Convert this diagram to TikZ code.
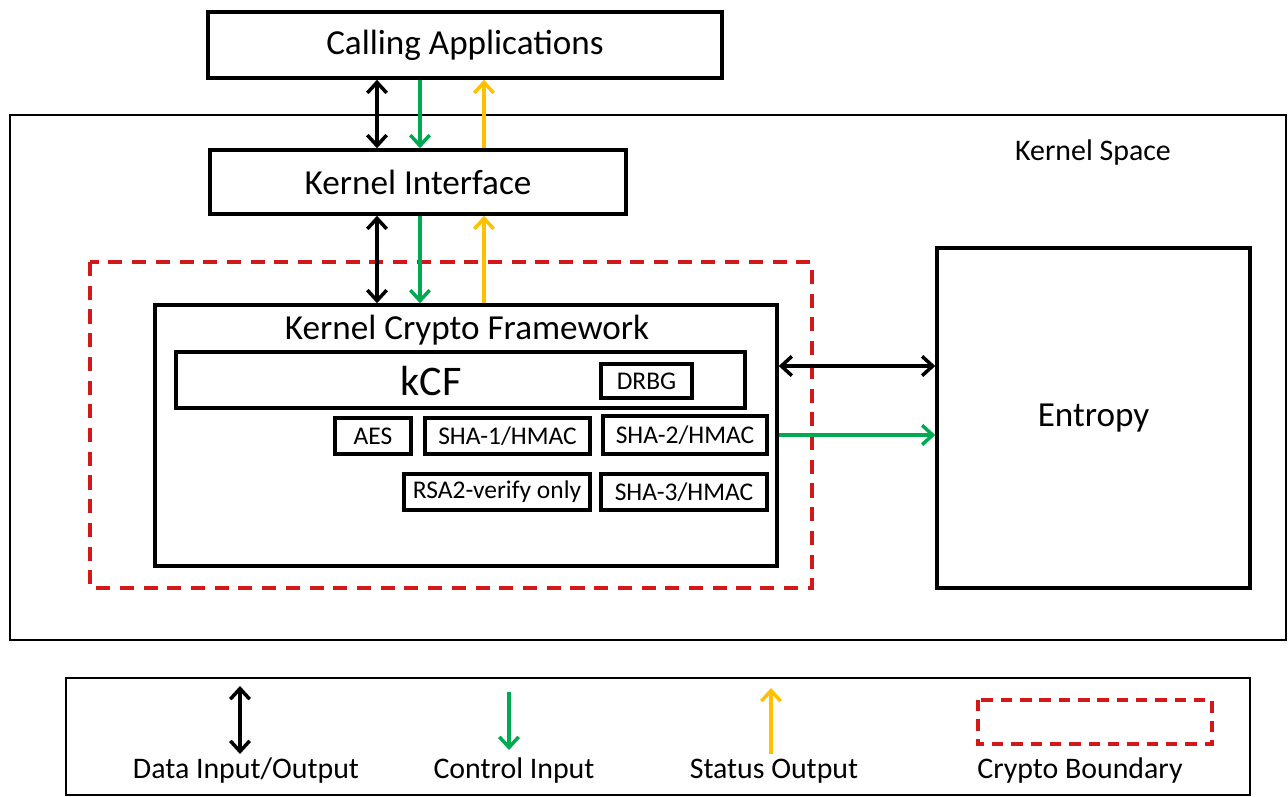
\documentclass[tikz,border=0pt]{standalone}
\usepackage{fontspec}
\setmainfont{Carlito}
\usetikzlibrary{arrows.meta}
\definecolor{ctrlgreen}{RGB}{0,170,80}
\definecolor{statyellow}{RGB}{255,192,0}
\definecolor{bndred}{RGB}{210,24,24}

\begin{document}
\begin{tikzpicture}[x=0.02cm,y=-0.02cm,
	box/.style={draw, line width=2pt, inner sep=0pt, font=\fontsize{20}{24}\selectfont},
	smallbox/.style={draw, line width=2pt, inner sep=0pt, font=\fontsize{14.5}{17}\selectfont},
	bigtext/.style={font=\fontsize{20}{24}\selectfont},
	legtext/.style={font=\fontsize{17}{20}\selectfont},
	outer/.style={line width=1.6pt},
	tip/.tip={Straight Barb[length=6pt,width=11pt,line width=2pt]},
	dataio/.style={line width=2.2pt, tip-tip},
	ctrlin/.style={ctrlgreen, line width=2.2pt, -tip},
	statout/.style={statyellow, line width=2.2pt, -tip},
	boundary/.style={bndred, line width=2.3pt, dash pattern=on 8pt off 5.5pt}]
	%\draw[help lines] (0,0) grid[step=50] (1288,796);
	\useasboundingbox (0,0) rectangle (1288,796);
	\node[box, minimum width=10.28cm, minimum height=1.32cm] (calling) at (465,45) {Calling Applications};
	\draw[outer] (10,115) rectangle (1286,640);
	\node[font=\fontsize{17}{20}\selectfont] (kspace) at (1093,153) {Kernel Space};
	\node[box, minimum width=8.32cm, minimum height=1.28cm] (kif) at (418,182) {Kernel Interface};
	\draw[boundary] (90,262) rectangle (812,588);
	\node[box, minimum width=12.44cm, minimum height=5.22cm] (kcf) at (466,435.5) {};
	\node[bigtext] (kcftitle) at (467,330) {Kernel Crypto Framework};
	\node[box, minimum width=11.38cm, minimum height=1.12cm] (kcfbar) at (460.5,380) {};
	\node[font=\fontsize{24}{28}\selectfont] (kcflabel) at (431,381) {kCF};
	\node[smallbox, minimum width=1.82cm, minimum height=0.68cm] (drbg) at (646.5,381) {DRBG};
	\node[smallbox, minimum width=1.52cm, minimum height=0.72cm] (aes) at (373,436) {AES};
	\node[smallbox, minimum width=3.3cm, minimum height=0.72cm] (sha1) at (507.5,436) {SHA-1/HMAC};
	\node[smallbox, minimum width=3.28cm, minimum height=0.76cm] (sha2) at (685,435) {SHA-2/HMAC};
	\node[smallbox, minimum width=3.72cm, minimum height=0.72cm] (rsa) at (497,492) {RSA2-verify only};
	\node[smallbox, minimum width=3.32cm, minimum height=0.72cm] (sha3) at (684,492) {SHA-3/HMAC};
	\node[box, minimum width=6.26cm, minimum height=6.8cm] (entropy) at (1093.5,418) {Entropy};

	\coordinate (xdata) at (377,0);
	\coordinate (xctrl) at (420,0);
	\coordinate (xstat) at (484,0);
	\coordinate (ydata) at (0,366);
	\draw[dataio] (calling.south -| xdata) -- (kif.north -| xdata);
	\draw[ctrlin] (calling.south -| xctrl) -- (kif.north -| xctrl);
	\draw[statout] (kif.north -| xstat) -- (calling.south -| xstat);
	\draw[dataio] (kif.south -| xdata) -- (kcf.north -| xdata);
	\draw[ctrlin] (kif.south -| xctrl) -- (kcf.north -| xctrl);
	\draw[statout] (kcf.north -| xstat) -- (kif.south -| xstat);
	\draw[dataio] (kcf.east |- ydata) -- (entropy.west |- ydata);
	\draw[ctrlin] (kcf.east |- sha2.east) -- (entropy.west |- sha2.east);

	% legend
	\draw[outer] (66,678) rectangle (1250,795);
	\coordinate (ldata1) at (240,686);
	\coordinate (ldata2) at (240,754);
	\coordinate (lctrl1) at (509,692);
	\coordinate (lctrl2) at (509,750);
	\coordinate (lstat1) at (771,754);
	\coordinate (lstat2) at (771,688);
	\draw[dataio] (ldata1) -- (ldata2);
	\draw[ctrlin] (lctrl1) -- (lctrl2);
	\draw[statout] (lstat1) -- (lstat2);
	\draw[boundary, line width=2pt, dash pattern=on 6.5pt off 4.5pt] (978,700) rectangle (1212,744);
	\node[legtext] (ldatatext) at (246,771) {Data Input/Output};
	\node[legtext] (lctrltext) at (514,771) {Control Input};
	\node[legtext] (lstattext) at (774,771) {Status Output};
	\node[legtext] (lbndtext) at (1080,771) {Crypto Boundary};
\end{tikzpicture}
\end{document}
